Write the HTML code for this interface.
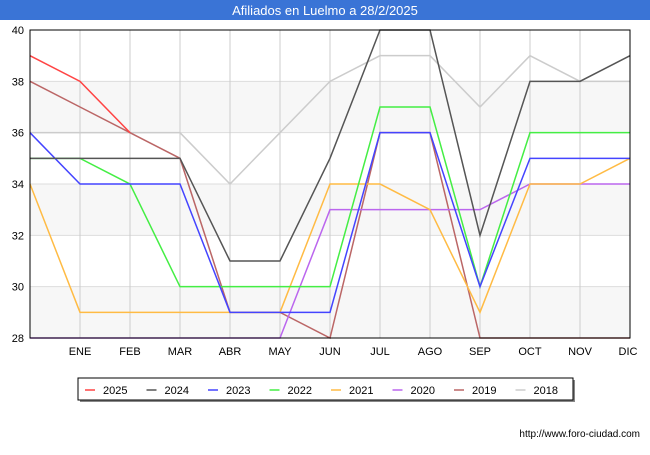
<!DOCTYPE html>
<html><head><meta charset="utf-8"><style>
body{margin:0;width:650px;height:450px;background:#fff;font-family:"Liberation Sans",sans-serif;overflow:hidden}
</style></head><body>
<svg width="650" height="450" xmlns="http://www.w3.org/2000/svg">
<rect x="0" y="0" width="650" height="20" fill="#3a74d6"/>
<text x="325" y="15" text-anchor="middle" fill="#fff" font-size="13">Afiliados en Luelmo a 28/2/2025</text>
<g id="bands"></g><g id="grid"></g><g id="series"></g>
<rect x="30" y="30" width="600" height="308" fill="none" stroke="#000" stroke-width="1"/>
<g id="axes" font-size="11" fill="#000"></g>
<g>
<rect x="80" y="380" width="495" height="22" fill="#888"/>
<rect x="78" y="378" width="495" height="22" fill="#fff" stroke="#000"/>
<g id="legend" font-size="11"></g>
</g>
<text x="640" y="437" text-anchor="end" font-size="10">http://www.foro-ciudad.com</text>
</svg>
<script>
const months=["","ENE","FEB","MAR","ABR","MAY","JUN","JUL","AGO","SEP","OCT","NOV","DIC"];
const yTicks=[28,30,32,34,36,38,40];
const names=["2025","2024","2023","2022","2021","2020","2019","2018"];
const colors=["#ff4444","#555555","#4444ff","#44ee44","#ffbb44","#bb66ee","#bb6666","#cccccc"];
const s2025=[39,38,36];
const s2024=[35,35,35,35,31,31,35,40,40,32,38,38,39];
const s2023=[36,34,34,34,29,29,29,36,36,30,35,35,35];
const s2022=[35,35,34,30,30,30,30,37,37,30,36,36,36];
const s2021=[34,29,29,29,29,29,34,34,33,29,34,34,35];
const s2020=[28,28,28,28,28,28,33,33,33,33,34,34,34];
const s2019=[38,37,36,35,29,29,28,36,36,28,28,28,28];
const s2018=[36,36,36,36,34,36,38,39,39,37,39,38,38];
const series=[s2025,s2024,s2023,s2022,s2021,s2020,s2019,s2018];
const NS="http://www.w3.org/2000/svg";
const X=i=>30+i*50, Y=v=>338-(v-28)*(308/12);
function mk(p,t,a){const e=document.createElementNS(NS,t);for(const k in a)e.setAttribute(k,a[k]);document.getElementById(p).appendChild(e);return e;}
for(let i=0;i<yTicks.length-1;i++){if(i%2==0){const r=mk('bands','rect',{x:30,y:Y(yTicks[i+1]),width:600,height:Y(yTicks[i])-Y(yTicks[i+1]),fill:'#f7f7f7'});

}}
yTicks.forEach(v=>{const l=mk('grid','line',{x1:30,x2:630,y1:Y(v),y2:Y(v),stroke:'#ddd'});


const t=mk('axes','text',{x:24,y:Y(v)+4,'text-anchor':'end'});t.textContent=v;

});
months.forEach((m,i)=>{if(i==0)return;const l=mk('grid','line',{x1:X(i),x2:X(i),y1:30,y2:338,stroke:'#ccc'});


const t=mk('axes','text',{x:X(i)-(i==12?2:0),y:355,'text-anchor':'middle'});t.textContent=m;

});
for(let k=series.length-1;k>=0;k--){const p=mk('series','polyline',{points:series[k].map((v,i)=>X(i)+','+Y(v)).join(' '),fill:'none',stroke:colors[k],'stroke-width':1.5});

}
names.forEach((n,k)=>{const x=85+k*61.5;const l=mk('legend','line',{x1:x,x2:x+10,y1:390,y2:390,stroke:colors[k],'stroke-width':1.5});


const t=mk('legend','text',{x:x+18,y:394});t.textContent=n;

});
</script>
</body></html>
